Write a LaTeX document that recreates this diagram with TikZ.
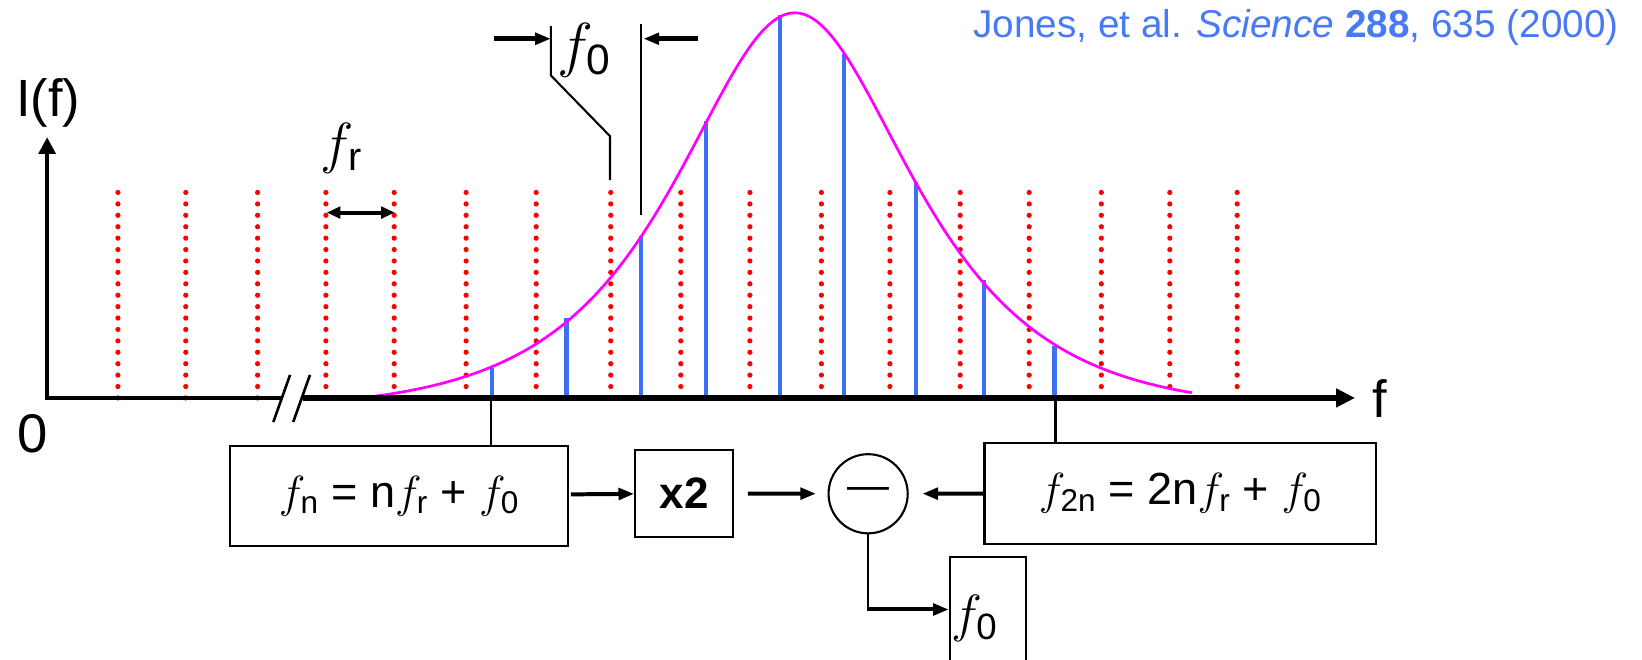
\RequirePackage{fix-cm}
\documentclass[tikz,border=0pt]{standalone}
\usepackage{amsmath}
\usepackage{fontspec}
\setmainfont{Liberation Sans}
\usepackage{tikz}
\usetikzlibrary{arrows.meta,positioning}
\definecolor{lineblue}{RGB}{62,112,245}
\definecolor{refblue}{RGB}{72,122,246}
\definecolor{envpink}{RGB}{255,0,255}
\definecolor{combred}{RGB}{255,0,0}
\tikzset{
  box/.style={draw,line width=2pt,inner sep=0pt,font=\fontsize{43}{50}\selectfont},
  arr/.style={-{Triangle[length=15pt,width=11pt]},line width=3.8pt},
  conn/.style={line width=2pt},
  comb/.style={combred,line width=5pt,line cap=round,dash pattern=on 0pt off 10.9pt},
  mode/.style={lineblue,line width=4pt},
  lbl/.style={inner sep=0pt,font=\fontsize{50}{56}\selectfont},
}
\newcommand{\fsb}[1]{$f_{\text{#1}}$}

\begin{document}
\begin{tikzpicture}[x=1pt,y=-1pt]
\useasboundingbox (0,0) rectangle (1568,630);
\clip (0,0) rectangle (1568,630);

\foreach \x in {112.6,177.4,246,311.2,376.4,445.1,512,583.2,650.1,716.1,
                784.4,849.8,916.9,982.8,1051.7,1117.1,1181.4}
  \draw[comb] (\x,380) -- (\x,183);
\foreach \x/\t in {470/351,541/304,612/225,674/116,745/14,806/52,
                   875/174,940/267,1007/330}
  \draw[mode] (\x,380) -- (\x,\t);
\draw[envpink,line width=2.6pt] plot[domain=346:1138,samples=140,smooth]
  (\x,{392.2-380/cosh((\x-759)/100)});

\coordinate (orig) at (45,380);
\coordinate (ytip) at (45,131);
\coordinate (brk)  at (269,380);
\coordinate (xst)  at (289,380);
\coordinate (xtip) at (1294,380);
\draw[line width=3.6pt,{Triangle[length=16pt,width=16pt]}-] (ytip) -- (orig) -- (brk);
\draw[line width=5pt,-{Triangle[length=18pt,width=17pt]}] (xst) -- (xtip);
\draw[line width=2.5pt] (277,358) -- (261,403) (296,358) -- (280,403);

\node[lbl] (ilab) at (46,98) {I(f)};
\node[lbl,font=\fontsize{52}{56}\selectfont] (zero) at (31,414.5) {0};
\node[lbl] (flab) at (1318,380.5) {f};

\node[inner sep=0pt,font=\fontsize{54}{60}\selectfont] (frlab) at (326,141.5) {\fsb{r}};
\coordinate (ra) at (312,203);
\coordinate (rb) at (377,203);
\draw[line width=3.8pt,{Triangle[length=13pt,width=11pt]}-{Triangle[length=13pt,width=11pt]}]
  (ra) -- (rb);

\node[inner sep=0pt,font=\fontsize{58}{64}\selectfont] (f0lab) at (557.5,48) {\fsb{0}};
\coordinate (ml) at (526,25);
\coordinate (mr) at (612.5,23);
\draw[conn] (ml) -- (526,72) -- (582.5,130) -- (582.5,172);
\draw[conn] (mr) -- (612.5,205);
\coordinate (al) at (472,37);
\coordinate (ar) at (667,37);
\draw[arr,line width=4.6pt] (al) -- (ml |- al);
\draw[arr,line width=4.6pt] (ar) -- ([xshift=2pt]mr |- ar);

\node[anchor=east,text=refblue,inner sep=0pt,font=\fontsize{37}{42}\selectfont] (cite) at (1546,26)
  {Jones, et al. \textit{Science} \textbf{288}, 635 (2000)};

\node[box,minimum width=323.5pt,minimum height=95.5pt] (fn) at (381,473.4)
  {\fsb{n} = n\fsb{r} + \fsb{0}};
\node[box,minimum width=93.6pt,minimum height=82.7pt,font=\fontsize{42}{48}\selectfont\bfseries]
  (dbl) at (653.4,471.2) {x2};
\node[draw,circle,line width=2pt,minimum size=75.6pt,inner sep=0pt,
      font=\fontsize{40}{40}\selectfont] (minus) at (829,471.5) {---};
\node[box,minimum width=373.7pt,minimum height=96.8pt] (ftn) at (1127,471.1)
  {\fsb{2n} = 2n\fsb{r} + \fsb{0}};
\node[box,anchor=north west,minimum width=72.4pt,minimum height=118pt,text width=70pt,
      align=left,font=\fontsize{50}{56}\selectfont] (fout) at (906,531) {\fsb{0}};

\coordinate (pn)  at (469,380);
\coordinate (p2n) at (1008,380);
\coordinate (bend) at (829,582);
\draw[conn,line width=2.4pt] (pn) -- (fn.north -| pn);
\draw[conn,line width=2.4pt] (p2n) -- (ftn.north -| p2n);
\draw[arr,shorten <=1.5pt] (fn) -- (dbl);
\draw[arr,shorten <=13pt,shorten >=11pt] (dbl) -- (minus);
\draw[arr,shorten >=13pt] (ftn) -- (minus);
\draw[conn,line width=2.5pt] (minus) -- (bend);
\draw[arr] ([xshift=-1.5pt]bend) -- (fout.west |- bend);
\end{tikzpicture}
\end{document}
